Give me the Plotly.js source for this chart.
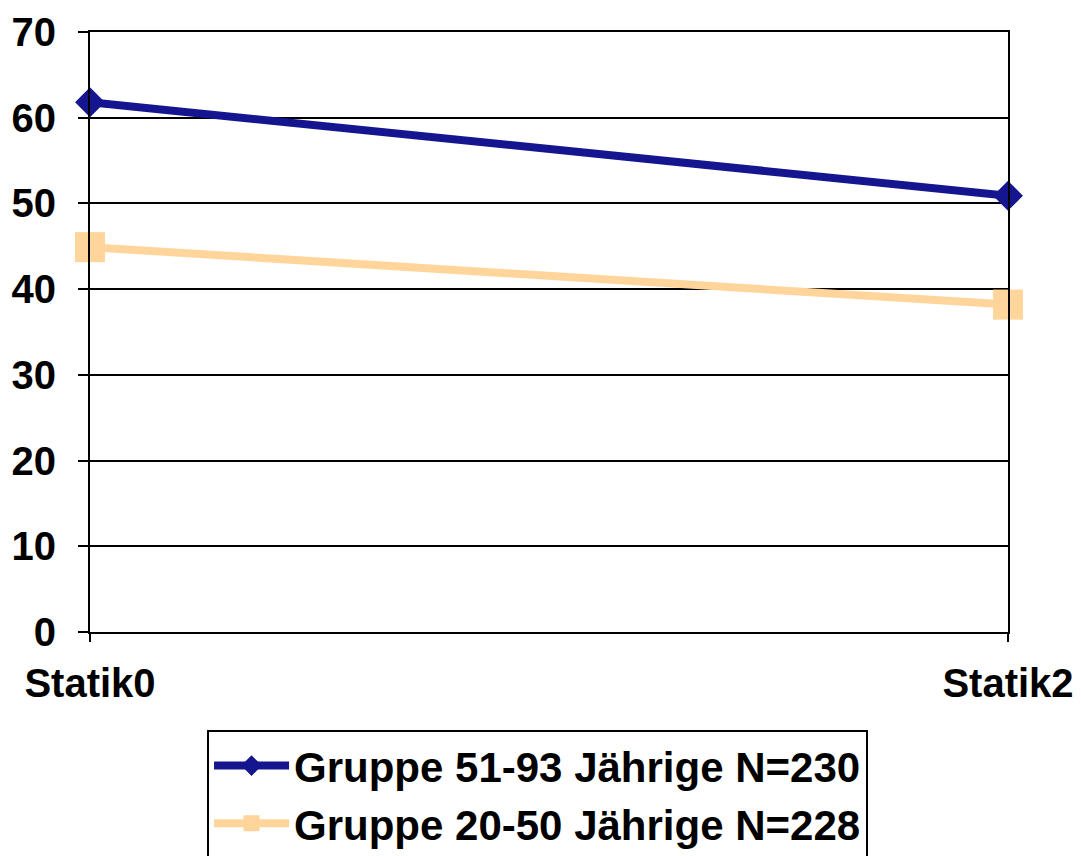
<!DOCTYPE html>
<html><head><meta charset="utf-8">
<script src="https://cdn.plot.ly/plotly-3.0.1.min.js"></script>
<style>html,body{margin:0;padding:0;background:#fff;overflow:hidden}#chart{width:1081px;height:856px}</style>
</head><body><div id="chart"></div>
<script>
const categories = ["Statik0", "Statik2"];
const seriesNames = ["Gruppe 51-93 Jährige N=230", "Gruppe 20-50 Jährige N=228"];
const older = [61.8, 50.9];
const younger = [44.9, 38.2];
const yTicks = [0, 10, 20, 30, 40, 50, 60, 70];

const font = "Liberation Sans, Arial, sans-serif";
const traces = [
  {x: categories, y: older, name: seriesNames[0], type: "scatter", mode: "lines+markers",
   line: {color: "#15168F", width: 8}, marker: {symbol: "diamond", size: 23, color: "#15168F"}, cliponaxis: false},
  {x: categories, y: younger, name: seriesNames[1], type: "scatter", mode: "lines+markers",
   line: {color: "#FFD59B", width: 8}, marker: {symbol: "square", size: 30, color: "#FFD59B"}, cliponaxis: false}
];
const layout = {
  width: 1081, height: 856,
  margin: {l: 90, r: 73, t: 32, b: 224, autoexpand: false},
  paper_bgcolor: "#fff", plot_bgcolor: "#fff",
  font: {family: font, color: "#000"},
  showlegend: true,
  legend: {x: 0.1275, y: -0.163, xanchor: "left", yanchor: "top",
    bordercolor: "#000", borderwidth: 2, bgcolor: "#fff",
    font: {size: 42, family: font, weight: "bold", color: "#000"}, itemwidth: 75, tracegroupgap: 0},
  xaxis: {type: "category", range: [0, 1], showgrid: false, zeroline: false,
    showline: true, linecolor: "#000", linewidth: 2, mirror: true,
    ticks: "outside", ticklen: 8, tickwidth: 2, tickcolor: "#000", ticklabelstandoff: 7,
    tickfont: {size: 40, family: font, weight: "bold"}, fixedrange: true},
  yaxis: {range: [0, 70], tickvals: yTicks, showgrid: true, gridcolor: "#000", gridwidth: 2,
    zeroline: false, showline: true, linecolor: "#000", linewidth: 2, mirror: true,
    ticks: "outside", ticklen: 10, tickwidth: 2, tickcolor: "#000", ticklabelstandoff: 14,
    tickfont: {size: 40, family: font, weight: "bold"}, fixedrange: true}
};
Plotly.newPlot("chart", traces, layout, {displayModeBar: false, staticPlot: true});
</script></body></html>
